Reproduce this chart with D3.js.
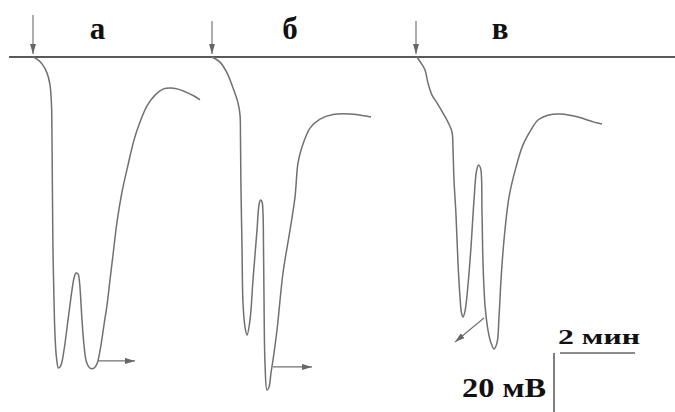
<!DOCTYPE html>
<html lang="ru">
<head>
    <meta charset="UTF-8">
    <title>Хроматограммы а, б, в</title>
    <script src="https://d3js.org/d3.v7.min.js"></script>
    <style>
        body { margin: 0; background: #fff; }
        svg { display: block; }
        .trace { fill: none; stroke: #707070; stroke-width: 1.5; }
        .lbl { font-family: "Liberation Serif", "Times New Roman", serif; font-weight: bold; fill: #111; }
    </style>
</head>
<body>
<div id="chart"></div>
<script>
// time in seconds, signal in mV (0 = baseline, negative = down)
const curveA = [[36.8,0],[43.2,-0.7],[51.2,-2.3],[59.2,-5.3],[64,-9.3],[66.4,-16],[67.2,-27.7],[68,-47.7],
    [68.8,-64.3],[70.4,-81],[72,-92.7],[74.4,-100.3],[77.6,-103.7],[81.6,-102.7],[86.4,-97.7],[92.8,-87.7],
    [99.2,-77.7],[102.4,-73.7],[105.6,-72],[108.8,-72.3],[111.2,-75],[112.8,-79.3],[115.2,-87.7],[118.4,-96],[122.4,-101.7],
    [128,-103.7],[134.4,-103.7],[139.2,-102.3],[142.4,-99.7],[145.6,-96],[150.4,-89.3],[155.2,-82.7],[160,-74.3],
    [164.8,-66],[171.2,-55],[179.2,-45],[188.8,-36],[198.4,-27.7],[208,-21.7],[219.2,-16.3],[232,-12.7],
    [244.8,-10.7],[256,-10.3],[268.8,-10.7],[281.6,-11.7],[294.4,-13],[304,-14.3]];

const curveB = [[323.2,0],[336,-1.7],[347.2,-5.3],[356.8,-10.3],[364.8,-15.3],[368,-19.3],[368.8,-27.7],
    [369.6,-44.3],[371.2,-63.3],[372.8,-82],[376,-90],[379.2,-92.7],[384,-87.7],[388.8,-74.3],[395.2,-57.7],
    [398.4,-49.3],[400.8,-47.7],[403.2,-48.3],[404.8,-52],[405.6,-63.3],[406.4,-80],[408,-102],[411.2,-111],[414.4,-110],
    [417.6,-105.3],[420.8,-101],[427.2,-91],[436.8,-72],[448,-57.7],[456,-46.7],[460.8,-35.3],[467.2,-30],
    [480,-23.7],[496,-20.7],[516.8,-19.2],[544,-19],[563.2,-19.5],[577.6,-20]];

const curveV = [[651.2,0],[657.6,-2],[664,-4.3],[668.8,-8.7],[675.2,-12.7],[683.2,-15.3],[692.8,-18.7],
    [700.8,-21.7],[707.2,-25],[708.8,-31],[710.4,-41],[713.6,-52.7],[716.8,-68.7],[720,-80],[722.4,-85.3],
    [724.8,-86.7],[728,-84.7],[732.8,-76],[737.6,-63.3],[742.4,-47.7],[746.4,-38],[749.6,-36],[752.8,-37],
    [755.2,-52],[756.8,-68.7],[760,-82.7],[764.8,-91],[769.6,-95.3],[774.4,-97.3],[779.2,-95.3],[782.4,-86.7],
    [785.6,-74.3],[790.4,-61],[798.4,-46.7],[809.6,-36.7],[820.8,-29.3],[833.6,-24.3],[844.8,-21],[862.4,-19.3],
    [881.6,-19],[908.8,-20],[934.4,-21.7],[947.2,-22.3]];

const traceNames = ["а", "б", "в"];
const labelTimes = [140, 448, 784];
const injectTimes = [36.8, 323.2, 649.6];
// arrows at the end of each trace: [t0, v0, t1, v1]
const endArrows = [[140.8,-101.3,200,-101.3],[420.8,-103.3,483.2,-103.3],[758.4,-87,712,-95]];
const scaleTime = 120;   // 2 мин
const scaleVolt = 20;    // 20 мВ

const width = 675, height = 412;

const x = d3.scaleLinear().domain([0, 1064]).range([10, 675]);
const y = d3.scaleLinear().domain([0, -118.33]).range([57, 412]);

const svg = d3.select("#chart").append("svg")
    .attr("width", width)
    .attr("height", height);

const defs = svg.append("defs");
defs.append("marker")
    .attr("id", "head")
    .attr("viewBox", "0 0 10 6")
    .attr("refX", 10).attr("refY", 3)
    .attr("markerWidth", 10).attr("markerHeight", 6)
    .attr("markerUnits", "userSpaceOnUse")
    .attr("orient", "auto")
    .append("path")
    .attr("d", "M0,0L10,3L0,6Z")
    .attr("fill", "#666");

// baseline
svg.append("line")
    .attr("x1", 9).attr("x2", width)
    .attr("y1", y(0)).attr("y2", y(0))
    .attr("stroke", "#5a5a5a").attr("stroke-width", 2);

// injection arrows
svg.selectAll(".inj").data(injectTimes).enter().append("line")
    .attr("x1", d => x(d)).attr("x2", d => x(d))
    .attr("y1", (d, i) => i === 0 ? 15 : 21).attr("y2", y(0) - 3)
    .attr("stroke", "#777").attr("stroke-width", 1.2)
    .attr("marker-end", "url(#head)");

// traces
const line = d3.line()
    .x(d => x(d[0]))
    .y(d => y(d[1]))
    .curve(d3.curveCatmullRom.alpha(0.5));

svg.selectAll(".trace").data([curveA, curveB, curveV]).enter().append("path")
    .attr("class", "trace")
    .attr("d", line);

// end arrows
svg.selectAll(".endarrow").data(endArrows).enter().append("line")
    .attr("x1", d => x(d[0])).attr("y1", d => y(d[1]))
    .attr("x2", d => x(d[2])).attr("y2", d => y(d[3]))
    .attr("stroke", "#707070").attr("stroke-width", 1.2)
    .attr("marker-end", "url(#head)");

// trace labels
svg.selectAll(".name").data(traceNames).enter().append("text")
    .attr("class", "lbl")
    .attr("x", (d, i) => x(labelTimes[i]))
    .attr("y", 39)
    .attr("text-anchor", "middle")
    .style("font-size", "31px")
    .text(d => d);

// scale bars
const sx0 = x(880.0), sy0 = 353;
svg.append("line")
    .attr("x1", sx0).attr("x2", sx0 + (x(scaleTime) - x(0)))
    .attr("y1", sy0).attr("y2", sy0)
    .attr("stroke", "#666").attr("stroke-width", 1.5);
svg.append("line")
    .attr("x1", sx0 - 6).attr("x2", sx0 - 6)
    .attr("y1", sy0).attr("y2", sy0 + (y(-scaleVolt) - y(0)))
    .attr("stroke", "#555").attr("stroke-width", 1.5);

svg.append("text")
    .attr("class", "lbl")
    .attr("x", 558).attr("y", 344)
    .attr("textLength", 82).attr("lengthAdjust", "spacingAndGlyphs")
    .style("font-size", "22px")
    .text(scaleTime / 60 + " мин");

svg.append("text")
    .attr("class", "lbl")
    .attr("x", 462).attr("y", 397)
    .attr("textLength", 84).attr("lengthAdjust", "spacingAndGlyphs")
    .style("font-size", "27px")
    .text(scaleVolt + " мВ");
</script>
</body>
</html>
